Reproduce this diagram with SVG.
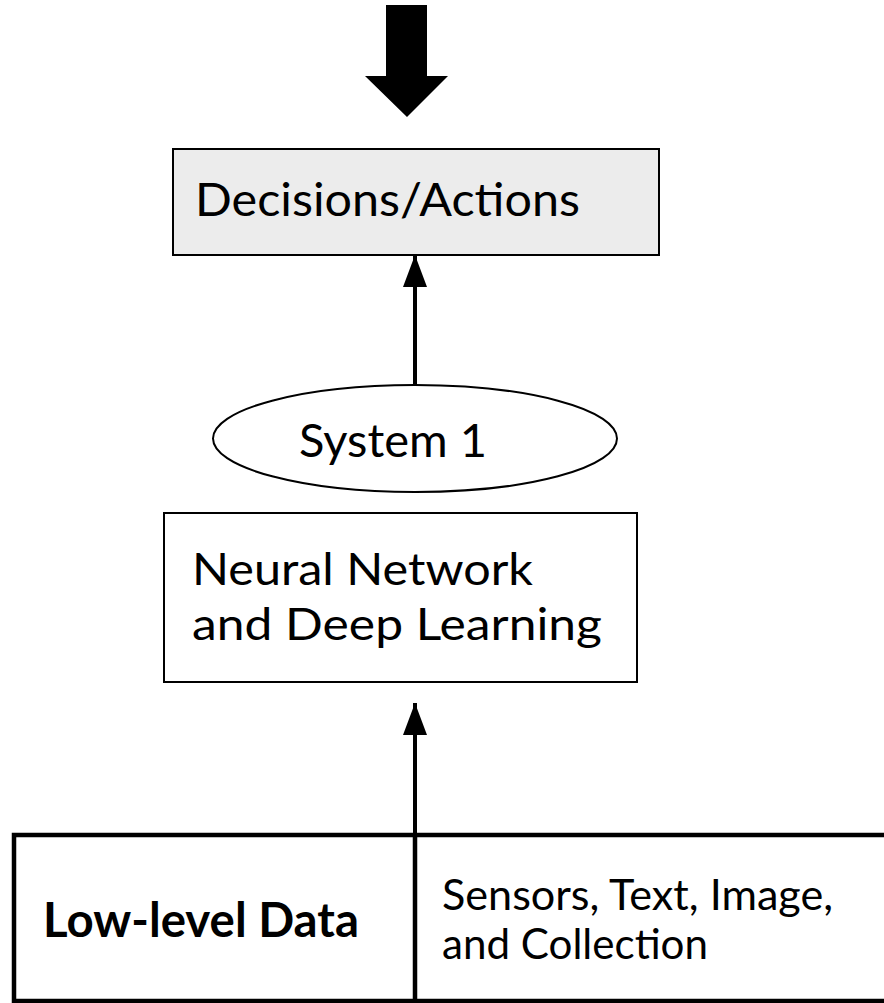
<svg xmlns="http://www.w3.org/2000/svg" width="884" height="1003" viewBox="0 0 884 1003">
  <style>
    .box { fill: #ffffff; stroke: #000000; stroke-width: 2; }
    .grey { fill: #ececec; }
    .heavy { fill: #ffffff; stroke: #000000; stroke-width: 4.5; }
    .label { font-family: Lato, "Open Sans", "Liberation Sans", sans-serif; fill: #000000; }
    .bold { font-weight: bold; }
    .conn { stroke: #000000; stroke-width: 4; fill: none; }
  </style>
  <defs>
    <marker id="head" markerUnits="userSpaceOnUse" markerWidth="32" markerHeight="24" refX="32" refY="12" orient="auto">
      <path d="M0,0 L32,12 L0,24 Z" fill="#000000"/>
    </marker>
  </defs>

  <rect width="884" height="1003" fill="#ffffff"/>

  <!-- incoming block arrow -->
  <g id="input-arrow">
    <polygon points="386,5 427,5 427,76 448,76 407,117 365,76 386,76" fill="#000000"/>
  </g>

  <g id="decisions">
    <rect class="box grey" x="173" y="149" width="486" height="106"/>
    <text class="label" x="195" y="216" font-size="47" textLength="385" lengthAdjust="spacingAndGlyphs">Decisions/Actions</text>
  </g>

  <g id="system1">
    <ellipse class="box" cx="415" cy="438.5" rx="202" ry="53.5"/>
    <text class="label" x="299" y="457" font-size="47" textLength="188" lengthAdjust="spacingAndGlyphs">System 1</text>
  </g>

  <g id="neural-network">
    <rect class="box" x="164" y="513" width="473" height="169"/>
    <text class="label" x="192" y="585" font-size="45" textLength="341" lengthAdjust="spacingAndGlyphs">Neural Network</text>
    <text class="label" x="192" y="640" font-size="45" textLength="410" lengthAdjust="spacingAndGlyphs">and Deep Learning</text>
  </g>

  <g id="low-level-data">
    <rect class="heavy" x="14" y="835" width="900" height="166"/>
    <line x1="415" y1="835" x2="415" y2="1001" stroke="#000000" stroke-width="4.5"/>
    <text class="label bold" x="43" y="937" font-size="47" textLength="316" lengthAdjust="spacingAndGlyphs">Low-level Data</text>
    <text class="label" x="442" y="910" font-size="42" textLength="391" lengthAdjust="spacingAndGlyphs">Sensors, Text, Image,</text>
    <text class="label" x="442" y="959" font-size="42" textLength="266" lengthAdjust="spacingAndGlyphs">and Collection</text>
  </g>

  <g id="connectors">
    <line class="conn" x1="415" y1="386" x2="415" y2="255" marker-end="url(#head)"/>
    <line class="conn" x1="415" y1="835" x2="415" y2="703" marker-end="url(#head)"/>
  </g>
</svg>
